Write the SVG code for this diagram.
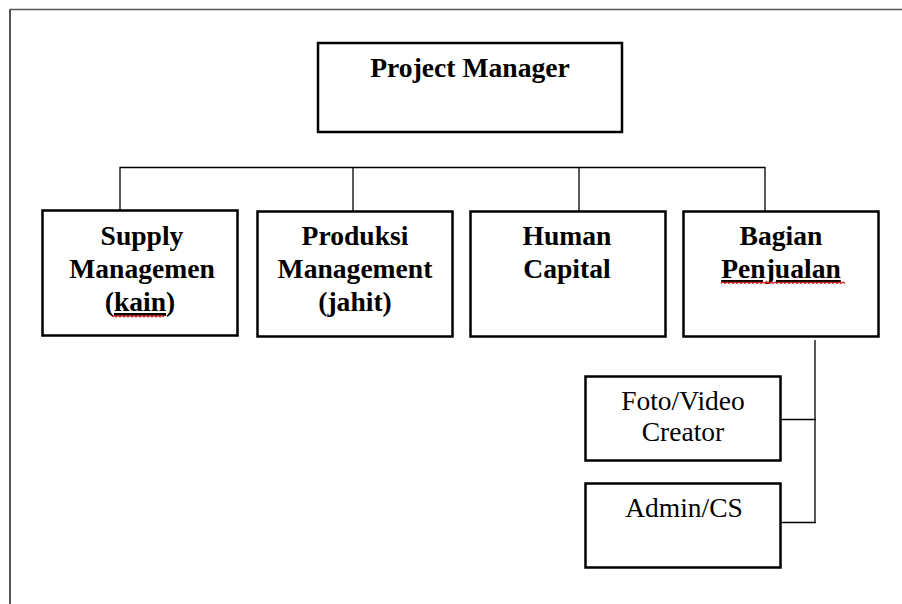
<svg xmlns="http://www.w3.org/2000/svg" width="902" height="604" viewBox="0 0 902 604">
<style>
.box{fill:#fff;stroke:#000;stroke-width:2.5}
.b{font-family:"Liberation Serif","Times New Roman",serif;font-weight:bold;font-size:27.6px;text-anchor:middle;fill:#000}
.r{font-family:"Liberation Serif","Times New Roman",serif;font-size:27.5px;text-anchor:middle;fill:#000}
.c{fill:none;stroke:#000;stroke-width:1.3}
.sq{fill:none;stroke:#e02020;stroke-width:1.2}
.u{text-decoration:underline}
</style>
<rect width="902" height="604" fill="#fff"/>
<g id="frame">
<line x1="10" y1="9.5" x2="902" y2="9.5" stroke="#555" stroke-width="1.5"/>
<line x1="10" y1="9" x2="10" y2="604" stroke="#555" stroke-width="2"/>
</g>
<g id="connectors">
<path class="c" d="M120,210 V167.5 H765 V211 M353,167.5 V211 M579,167.5 V211"/>
<path class="c" d="M815,340 V522.5 M781,419.5 H816 M781,522.5 H816"/>
</g>
<g id="project-manager">
<rect class="box" x="318" y="43" width="304" height="89"/>
<text class="b" x="470" y="77">Project Manager</text>
</g>
<g id="supply">
<rect class="box" x="42.5" y="210.5" width="195" height="125"/>
<text class="b" x="142" y="245">Supply</text>
<text class="b" x="142" y="278">Managemen</text>
<text class="b" x="140" y="311">(<tspan class="u">kain</tspan>)</text>
<path class="sq" d="M112,317 l2,-1.5 l2,1.5 l2,-1.5 l2,1.5 l2,-1.5 l2,1.5 l2,-1.5 l2,1.5 l2,-1.5 l2,1.5 l2,-1.5 l2,1.5 l2,-1.5 l2,1.5 l2,-1.5 l2,1.5 l2,-1.5 l2,1.5 l2,-1.5 l2,1.5 l2,-1.5 l2,1.5 l2,-1.5 l2,1.5 l2,-1.5 l2,1.5"/>
</g>
<g id="produksi">
<rect class="box" x="257.5" y="211.5" width="195" height="125"/>
<text class="b" x="355" y="245">Produksi</text>
<text class="b" x="355" y="278">Management</text>
<text class="b" x="355" y="311">(jahit)</text>
</g>
<g id="human-capital">
<rect class="box" x="470.5" y="211.5" width="195" height="125"/>
<text class="b" x="567" y="245">Human</text>
<text class="b" x="567" y="278">Capital</text>
</g>
<g id="bagian-penjualan">
<rect class="box" x="683.5" y="211.5" width="195" height="125"/>
<text class="b" x="781" y="245">Bagian</text>
<text class="b" x="781" y="278"><tspan class="u">Penjualan</tspan></text>
<path class="sq" d="M721,283.5 l2,-1.5 l2,1.5 l2,-1.5 l2,1.5 l2,-1.5 l2,1.5 l2,-1.5 l2,1.5 l2,-1.5 l2,1.5 l2,-1.5 l2,1.5 l2,-1.5 l2,1.5 l2,-1.5 l2,1.5 l2,-1.5 l2,1.5 l2,-1.5 l2,1.5 l2,-1.5 l2,1.5 l2,-1.5 l2,1.5 l2,-1.5 l2,1.5 l2,-1.5 l2,1.5 l2,-1.5 l2,1.5 l2,-1.5 l2,1.5 l2,-1.5 l2,1.5 l2,-1.5 l2,1.5 l2,-1.5 l2,1.5 l2,-1.5 l2,1.5 l2,-1.5 l2,1.5 l2,-1.5 l2,1.5 l2,-1.5 l2,1.5 l2,-1.5 l2,1.5 l2,-1.5 l2,1.5 l2,-1.5 l2,1.5 l2,-1.5 l2,1.5 l2,-1.5 l2,1.5 l2,-1.5 l2,1.5 l2,-1.5 l2,1.5 l2,-1.5 l2,1.5"/>
</g>
<g id="foto-video">
<rect class="box" x="585.5" y="376.5" width="195" height="84"/>
<text class="r" x="683" y="410">Foto/Video</text>
<text class="r" x="683" y="441">Creator</text>
</g>
<g id="admin-cs">
<rect class="box" x="585.5" y="483.5" width="195" height="84"/>
<text class="r" x="684" y="517">Admin/CS</text>
</g>
</svg>
